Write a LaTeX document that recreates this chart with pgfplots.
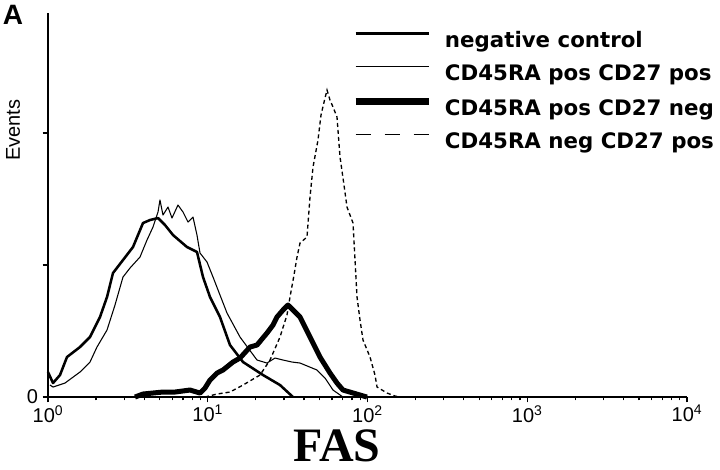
\documentclass[border=0pt]{standalone}
\usepackage{fontspec}
\setmainfont{Liberation Sans}
\newfontfamily\legfont{DejaVu Sans}
\newfontfamily\labfont{Liberation Serif}
\usepackage{pgfplots}
\pgfplotsset{compat=1.18}

\begin{document}
\begin{tikzpicture}
\begin{axis}[
  scale only axis,
  width=479.25pt, height=288pt,
  xmode=log, xmin=1, xmax=10000,
  ymin=0, ymax=384,
  axis lines=left,
  axis line style={-, line width=1.2pt},
  xtick={1,10,100,1000,10000},
  xticklabels={10\textsuperscript{0},10\textsuperscript{1},10\textsuperscript{2},10\textsuperscript{3},10\textsuperscript{4}},
  minor xtick={2,3,4,5,6,7,8,9,20,30,40,50,60,70,80,90,200,300,400,500,600,700,800,900,2000,3000,4000,5000,6000,7000,8000,9000},
  ytick={0,132,264},
  yticklabels={0,,},
  tick align=outside,
  major tick length=4pt, minor tick length=2.5pt,
  every tick/.style={black, line width=0.9pt},
  xticklabel style={font=\fontsize{15}{16}\selectfont, inner sep=2pt},
  yticklabel style={font=\fontsize{15}{16}\selectfont},
  xlabel={FAS}, ylabel={Events},
  every axis x label/.style={at={(axis description cs:0.452,-0.1276)},anchor=center,inner sep=0pt,font=\labfont\bfseries\fontsize{36}{38}\selectfont},
  every axis y label/.style={at={(axis description cs:-0.0548,0.695)},rotate=90,anchor=center,font=\fontsize{15}{16}\selectfont},
  legend style={draw=none, fill=none, at={(rel axis cs:0.4758,0.953)}, anchor=north west,
    font=\legfont\bfseries\fontsize{16}{18}\selectfont, row sep=13pt, column sep=9.75pt,
    inner sep=0pt, nodes={inner sep=0pt, text height=12pt, text depth=0pt}},
  legend cell align=left,
  legend image code/.code={\draw[#1] (0pt,4.5pt) -- (54.75pt,4.5pt);},
  clip=false,
]
% negative control
\addplot[black, line width=1.9pt, line join=round, legend image post style={line width=2pt}] coordinates {
(1.000,25) (1.075,14) (1.189,22) (1.315,40) (1.586,50) (1.832,60) (2.116,80) (2.341,100)
(2.552,124) (2.948,137) (3.405,150) (3.933,174) (4.350,177) (4.882,179) (5.400,172) (6.060,162)
(7.415,150) (8.563,145) (9.340,120) (10.33,100) (11.93,80) (13.78,52) (16.63,35) (22.18,22)
(28.33,12) (34.18,0)};
\addlegendentry{negative control}
% CD45RA pos CD27 pos
\addplot[black, line width=0.8pt, line join=round, legend image post style={line width=0.9pt}] coordinates {
(1.029,12) (1.075,10) (1.278,14) (1.586,25) (1.832,35) (2.026,50) (2.341,67) (2.627,92)
(2.948,120) (3.261,129) (3.767,140) (4.166,157) (4.543,170) (4.882,185) (5.024,197) (5.246,182)
(5.639,190) (5.973,179) (6.513,192) (7.000,185) (7.522,175) (8.084,180) (8.563,162) (8.945,144)
(9.892,135) (10.79,120) (11.93,102) (13.20,84) (15.92,60) (20.34,37) (23.49,34) (26.36,39)
(29.58,37) (33.69,35) (37.81,34) (48.30,27) (54.20,19) (60.81,7) (70.25,0)};
\addlegendentry{CD45RA pos CD27 pos}
% CD45RA pos CD27 neg
\addplot[black, line width=3.75pt, line join=round, legend image post style={line width=5pt}] coordinates {
(3.504,0) (3.933,3) (5.246,5) (6.237,5) (7.742,7) (8.945,4) (9.612,9) (10.33,17)
(11.43,24) (12.46,27) (14.39,35) (15.92,39) (18.39,50) (20.34,52) (23.49,64) (25.62,72)
(27.13,80) (29.58,87) (31.79,92) (34.18,87) (37.81,80) (40.63,70) (43.66,60) (50.42,40)
(58.25,24) (64.42,14) (70.25,7) (89.78,2) (99.29,0)};
\addlegendentry{CD45RA pos CD27 neg}
% CD45RA neg CD27 pos
\addplot[black, line width=1pt, dash pattern=on 3pt off 2.25pt,
  legend image post style={line width=1.2pt, dash pattern=on 11.25pt off 10.5pt}] coordinates {
(9.612,0) (11.43,3) (13.78,5) (16.63,12) (21.24,22) (24.53,37) (28.33,60) (31.33,82)
(32.73,100) (34.67,122) (36.21,140) (37.81,154) (41.81,160) (43.66,200) (45.60,230) (48.99,257)
(51.16,282) (54.20,299) (55.78,307) (58.25,297) (60.81,290) (64.42,280) (67.29,240) (71.27,212)
(74.41,190) (81.15,174) (85.97,100) (89.78,77) (93.72,57) (103.7,40) (111.4,22) (114.7,10)
(132.5,4) (148.6,1) (159.7,0)};
\addlegendentry{CD45RA neg CD27 pos}
\node[font=\bfseries\fontsize{21}{21}\selectfont] at (rel axis cs:-0.0548,0.995) {A};
\coordinate (bl) at (rel axis cs:-0.0751,-0.1875);
\coordinate (tr) at (rel axis cs:1.0516,1.0339);
\end{axis}
\pgfresetboundingbox
\path (bl) rectangle (tr);
\end{tikzpicture}
\end{document}
